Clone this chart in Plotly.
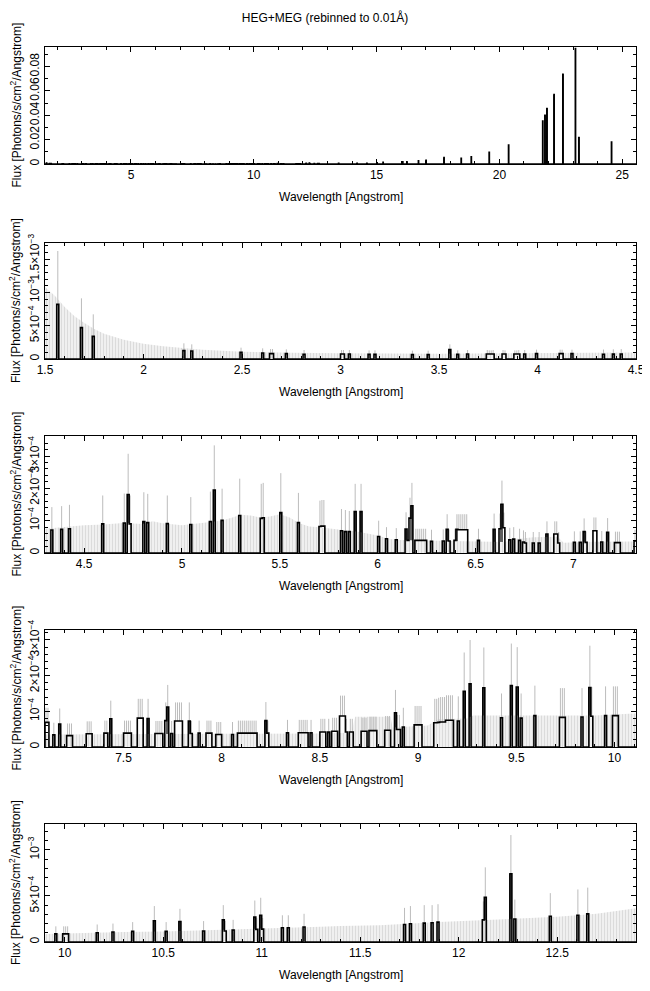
import numpy as np
import plotly.graph_objects as go

TITLE = "HEG+MEG (rebinned to 0.01Å)"
X_TITLE = "Wavelength [Angstrom]"
Y_TITLE = "Flux [Photons/s/cm<sup>2</sup>/Angstrom]"

# ---- weak-line region: 0.01 Å bins (left edge), flux, top of error bar ----
bin_wave = [
    1.56, 1.68, 1.74, 2.20, 2.24, 2.49, 2.60, 2.64, 2.65, 2.72, 2.81, 3.00, 3.01, 3.04,
    3.14, 3.17, 3.36, 3.44, 3.55, 3.59, 3.64, 3.74, 3.75, 3.76, 3.77, 3.82, 3.83, 3.88,
    3.89, 3.90, 3.93, 3.99, 4.11, 4.12, 4.17,
    4.33, 4.38, 4.42, 4.59, 4.70, 4.72, 4.73, 4.80, 4.82, 4.92, 5.04, 5.14, 5.16, 5.20,
    5.29, 5.40, 5.41, 5.50, 5.59, 5.70, 5.71, 5.72, 5.81, 5.83, 5.85, 5.88, 5.91, 6.00,
    6.04, 6.09, 6.14, 6.15, 6.16, 6.17, 6.19, 6.20, 6.21, 6.22, 6.23, 6.24, 6.27, 6.33,
    6.35, 6.36, 6.39, 6.40, 6.41, 6.42, 6.43, 6.44, 6.45, 6.51, 6.59, 6.62, 6.63, 6.64,
    6.67, 6.69, 6.72, 6.74, 6.75, 6.79, 6.82, 6.86, 6.90, 6.91, 6.92, 7.00, 7.03, 7.05,
    7.06, 7.10, 7.11, 7.14, 7.17, 7.21, 7.22, 7.23,
    7.31, 7.32, 7.33, 7.40, 7.41, 7.43, 7.50, 7.51, 7.52, 7.53, 7.57, 7.58, 7.59, 7.62,
    7.66, 7.67, 7.68, 7.69, 7.71, 7.72, 7.74, 7.76, 7.77, 7.78, 7.79, 7.83, 7.84, 7.88,
    7.92, 7.93, 7.94, 7.97, 7.98, 7.99, 8.05, 8.08, 8.09, 8.10, 8.11, 8.12, 8.13, 8.14,
    8.15, 8.16, 8.17, 8.22, 8.23, 8.33, 8.39, 8.40, 8.41, 8.42, 8.43, 8.45, 8.50, 8.51,
    8.52, 8.54, 8.56, 8.57, 8.58, 8.60, 8.61, 8.62, 8.63, 8.65, 8.66, 8.71, 8.72, 8.73,
    8.75, 8.76, 8.77, 8.78, 8.83, 8.84, 8.85, 8.88, 8.89, 8.90, 8.92, 8.98, 8.99, 9.00,
    9.01, 9.08, 9.09, 9.10, 9.11, 9.12, 9.13, 9.14, 9.15, 9.16, 9.17, 9.20, 9.23, 9.26,
    9.33, 9.42, 9.47, 9.50, 9.52, 9.59, 9.72, 9.73, 9.74, 9.83, 9.87, 9.88, 9.95, 9.99,
    10.00, 10.01,
    10.16, 10.24, 10.34, 10.45, 10.51, 10.58, 10.70, 10.80, 10.81, 10.85, 10.96, 10.97,
    10.99, 11.00, 11.10, 11.13, 11.21, 11.72, 11.75, 11.82, 11.86, 11.89, 12.12, 12.13,
    12.26, 12.28, 12.46, 12.60, 12.65,
]
bin_flux = [
    8.2e-4, 4.7e-4, 3.4e-4, 1.25e-4, 1.2e-4, 1.0e-4, 9.0e-5, 8.0e-5, 8.0e-5, 8.0e-5, 7.0e-5, 7.5e-5, 7.5e-5, 7.5e-5,
    7.0e-5, 7.0e-5, 6.5e-5, 6.5e-5, 1.4e-4, 7.0e-5, 7.5e-5, 7.5e-5, 7.5e-5, 7.5e-5, 7.5e-5, 7.5e-5, 7.5e-5, 7.5e-5,
    7.5e-5, 7.5e-5, 7.5e-5, 8.0e-5, 8.0e-5, 8.0e-5, 8.0e-5,
    7.1e-5, 7.3e-5, 7.5e-5, 9.0e-5, 9.3e-5, 1.81e-4, 9.0e-5, 9.7e-5, 9.4e-5, 9.1e-5, 8.8e-5, 9.7e-5, 1.95e-4, 1.01e-4,
    1.16e-4, 1.07e-4, 1.09e-4, 1.25e-4, 9.4e-5, 8.2e-5, 8.3e-5, 8.3e-5, 6.9e-5, 6.6e-5, 6.6e-5, 1.28e-4, 1.28e-4, 5.1e-5,
    4.4e-5, 4.1e-5, 7.4e-5, 3.9e-5, 1.08e-4, 1.46e-4, 3.9e-5, 3.9e-5, 3.9e-5, 3.9e-5, 3.9e-5, 3.9e-5, 3.6e-5, 3.7e-5,
    7.3e-5, 3.7e-5, 3.9e-5, 7.3e-5, 7.2e-5, 7.2e-5, 7.2e-5, 7.2e-5, 7.2e-5, 3.9e-5, 7.3e-5, 7.5e-5, 1.51e-4, 7.8e-5,
    4.1e-5, 4.3e-5, 3.9e-5, 3.4e-5, 3.1e-5, 3.1e-5, 3.1e-5, 5.9e-5, 5.9e-5, 5.9e-5, 3.1e-5, 3.3e-5, 3.3e-5, 6.6e-5,
    3.3e-5, 6.9e-5, 6.9e-5, 3.4e-5, 6.4e-5, 3.2e-5, 3.2e-5, 3.2e-5,
    3.7e-5, 3.7e-5, 3.7e-5, 3.9e-5, 3.9e-5, 7.9e-5, 3.9e-5, 3.9e-5, 3.9e-5, 3.9e-5, 8.1e-5, 8.1e-5, 8.1e-5, 8.0e-5,
    3.8e-5, 3.8e-5, 3.8e-5, 3.8e-5, 7.4e-5, 1.12e-4, 3.8e-5, 7.3e-5, 7.3e-5, 7.3e-5, 7.3e-5, 7.3e-5, 3.8e-5, 3.9e-5,
    3.9e-5, 3.9e-5, 3.9e-5, 3.5e-5, 3.5e-5, 3.5e-5, 3.5e-5, 3.9e-5, 3.9e-5, 3.9e-5, 3.9e-5, 3.9e-5, 3.9e-5, 3.9e-5,
    3.9e-5, 3.9e-5, 3.9e-5, 7.4e-5, 3.9e-5, 4.0e-5, 4.0e-5, 4.0e-5, 4.0e-5, 4.0e-5, 4.0e-5, 4.0e-5, 4.2e-5, 4.2e-5,
    4.2e-5, 4.2e-5, 4.4e-5, 4.4e-5, 4.4e-5, 8.7e-5, 8.7e-5, 8.7e-5, 4.2e-5, 4.2e-5, 4.2e-5, 4.4e-5, 4.4e-5, 4.4e-5,
    4.6e-5, 4.6e-5, 4.6e-5, 4.6e-5, 4.7e-5, 4.7e-5, 4.7e-5, 9.6e-5, 4.9e-5, 4.9e-5, 5.6e-5, 6.2e-5, 6.2e-5, 6.2e-5,
    6.2e-5, 6.8e-5, 6.8e-5, 6.9e-5, 7.0e-5, 7.0e-5, 7.0e-5, 7.5e-5, 7.5e-5, 7.5e-5, 7.5e-5, 7.3e-5, 1.56e-4, 1.77e-4,
    1.66e-4, 8.2e-5, 1.72e-4, 1.68e-4, 8.1e-5, 8.8e-5, 8.3e-5, 8.3e-5, 8.3e-5, 8.4e-5, 1.67e-4, 8.6e-5, 8.8e-5, 8.8e-5,
    8.8e-5, 8.8e-5,
    1.0e-4, 1.08e-4, 1.15e-4, 2.3e-4, 1.15e-4, 2.23e-4, 1.19e-4, 2.4e-4, 1.2e-4, 1.3e-4, 2.7e-4, 1.37e-4,
    2.9e-4, 1.4e-4, 1.55e-4, 1.55e-4, 1.62e-4, 1.9e-4, 1.98e-4, 2.05e-4, 2.09e-4, 2.16e-4, 2.4e-4, 4.86e-4,
    7.4e-4, 2.5e-4, 2.8e-4, 2.9e-4, 3.05e-4,
]
bin_err = [
    1.62e-3, 9.1e-4, 6.7e-4, 2.35e-4, 2.2e-4, 1.7e-4, 1.6e-4, 1.5e-4, 1.5e-4, 1.45e-4, 1.35e-4, 1.35e-4, 1.35e-4, 1.35e-4,
    1.3e-4, 1.3e-4, 1.25e-4, 1.25e-4, 2.2e-4, 1.3e-4, 1.35e-4, 1.35e-4, 1.3e-4, 1.3e-4, 1.35e-4, 1.35e-4, 1.3e-4, 1.3e-4,
    1.3e-4, 1.35e-4, 1.35e-4, 1.4e-4, 1.4e-4, 1.4e-4, 1.4e-4,
    1.42e-4, 1.45e-4, 1.49e-4, 1.78e-4, 1.84e-4, 3.07e-4, 1.78e-4, 1.88e-4, 1.83e-4, 1.78e-4, 1.73e-4, 1.9e-4, 3.33e-4, 1.99e-4,
    2.3e-4, 2.14e-4, 2.17e-4, 2.47e-4, 1.86e-4, 1.62e-4, 1.64e-4, 1.64e-4, 1.36e-4, 1.33e-4, 1.3e-4, 2.14e-4, 2.14e-4, 1.0e-4,
    8.0e-5, 7.7e-5, 1.26e-4, 7.5e-5, 1.71e-4, 2.17e-4, 7.5e-5, 7.5e-5, 7.5e-5, 7.5e-5, 7.5e-5, 7.5e-5, 7.2e-5, 7.3e-5,
    1.2e-4, 7.3e-5, 7.5e-5, 1.2e-4, 1.2e-4, 1.2e-4, 1.2e-4, 1.2e-4, 1.2e-4, 7.5e-5, 1.22e-4, 1.22e-4, 2.24e-4, 1.25e-4,
    7.8e-5, 8.0e-5, 7.5e-5, 7.0e-5, 6.5e-5, 6.5e-5, 6.5e-5, 9.8e-5, 9.8e-5, 9.8e-5, 6.5e-5, 6.7e-5, 6.7e-5, 1.07e-4,
    6.7e-5, 1.1e-4, 1.1e-4, 6.8e-5, 1.08e-4, 6.6e-5, 6.6e-5, 6.6e-5,
    7.2e-5, 7.2e-5, 7.2e-5, 7.4e-5, 7.4e-5, 1.3e-4, 7.4e-5, 7.4e-5, 7.4e-5, 7.4e-5, 1.35e-4, 1.35e-4, 1.35e-4, 1.35e-4,
    7.3e-5, 7.3e-5, 7.3e-5, 7.3e-5, 1.25e-4, 1.74e-4, 7.3e-5, 1.25e-4, 1.25e-4, 1.25e-4, 1.25e-4, 1.25e-4, 7.3e-5, 7.4e-5,
    7.4e-5, 7.4e-5, 7.4e-5, 7.0e-5, 7.0e-5, 7.0e-5, 7.0e-5, 7.4e-5, 7.4e-5, 7.4e-5, 7.4e-5, 7.4e-5, 7.4e-5, 7.4e-5,
    7.4e-5, 7.4e-5, 7.4e-5, 1.26e-4, 7.4e-5, 7.6e-5, 7.6e-5, 7.6e-5, 7.6e-5, 7.6e-5, 7.6e-5, 7.6e-5, 7.9e-5, 7.9e-5,
    7.9e-5, 7.9e-5, 8.2e-5, 8.2e-5, 8.2e-5, 1.44e-4, 1.44e-4, 1.44e-4, 7.9e-5, 7.9e-5, 7.9e-5, 8.2e-5, 8.2e-5, 8.2e-5,
    8.5e-5, 8.5e-5, 8.5e-5, 8.5e-5, 8.7e-5, 8.7e-5, 8.7e-5, 1.6e-4, 9.0e-5, 9.0e-5, 1.1e-4, 1.15e-4, 1.15e-4, 1.15e-4,
    1.15e-4, 1.35e-4, 1.35e-4, 1.38e-4, 1.4e-4, 1.4e-4, 1.4e-4, 1.45e-4, 1.45e-4, 1.45e-4, 1.45e-4, 1.42e-4, 2.65e-4, 3.0e-4,
    2.79e-4, 1.5e-4, 2.9e-4, 2.8e-4, 1.5e-4, 1.72e-4, 1.65e-4, 1.65e-4, 1.65e-4, 1.65e-4, 2.84e-4, 1.68e-4, 1.7e-4, 1.7e-4,
    1.7e-4, 1.7e-4,
    1.9e-4, 2.0e-4, 2.16e-4, 3.9e-4, 2.16e-4, 3.6e-4, 2.27e-4, 4.0e-4, 2.3e-4, 2.4e-4, 4.5e-4, 2.6e-4,
    4.8e-4, 2.6e-4, 2.9e-4, 2.9e-4, 3.06e-4, 3.7e-4, 3.9e-4, 4.0e-4, 4.0e-4, 4.1e-4, 4.4e-4, 8.1e-4,
    1.16e-3, 4.6e-4, 5.3e-4, 5.7e-4, 5.9e-4,
]

# ---- strong long-wavelength lines (only visible in the full-range panel) ----
strong_wave = [13.45, 14.20, 14.60, 15.01, 15.26, 16.06, 16.23, 16.70, 17.01, 17.74,
               18.44, 18.85, 19.58, 20.37, 21.76, 21.85, 21.93, 22.22, 22.58, 23.09,
               23.23, 24.56]
strong_flux = [6e-4, 6e-4, 5e-4, 1.0e-3, 1.4e-3, 1.9e-3, 1.9e-3, 2.7e-3, 3.0e-3, 5.2e-3,
               4.6e-3, 6.0e-3, 9.6e-3, 1.56e-2, 3.52e-2, 4.0e-2, 4.56e-2, 5.7e-2, 7.37e-2, 9.47e-2,
               2.18e-2, 1.8e-2]

# ---- upper error limit of the empty bins ----
env_wave = [1.50, 1.55, 1.60, 1.65, 1.70, 1.75, 1.80, 1.85, 1.90, 1.95, 2.00, 2.10, 2.20,
            2.30, 2.40, 2.50, 2.75, 3.00, 3.50, 4.00, 4.30, 4.45, 4.50, 4.60, 4.70, 4.80,
            4.85, 4.90, 5.00, 5.10, 5.20, 5.25, 5.30, 5.35, 5.40, 5.45, 5.50, 5.55, 5.60,
            5.65, 5.70, 5.80, 5.90, 6.00, 6.05, 6.10, 6.30, 6.50, 6.65, 6.70, 6.80, 6.92,
            6.95, 7.10, 7.25, 7.50, 8.00, 8.50, 8.66, 8.68, 8.86, 8.87, 9.05, 9.10, 9.25,
            9.28, 9.90, 10.10, 10.30, 10.50, 10.70, 10.90, 11.10, 11.30, 11.40, 11.60,
            11.90, 12.10, 12.30, 12.50, 12.70, 12.80, 12.90]
env_upper = [1.08e-3, 9.5e-4, 7.8e-4, 6.4e-4, 5.4e-4, 4.5e-4, 3.8e-4, 3.3e-4, 2.9e-4, 2.6e-4,
             2.3e-4, 1.9e-4, 1.6e-4, 1.4e-4, 1.25e-4, 1.1e-4, 9.5e-5, 8.5e-5, 8.0e-5, 8.0e-5,
             7.5e-5, 8.3e-5, 8.6e-5, 8.8e-5, 9.3e-5, 9.0e-5, 9.8e-5, 9.2e-5, 8.6e-5, 9.3e-5,
             1.0e-4, 1.08e-4, 1.18e-4, 1.16e-4, 1.1e-4, 1.13e-4, 1.2e-4, 1.1e-4, 9.2e-5,
             8.2e-5, 8.0e-5, 7.3e-5, 6.6e-5, 5.4e-5, 4.5e-5, 4.0e-5, 3.8e-5, 3.5e-5, 3.4e-5,
             4.3e-5, 4.9e-5, 5.0e-5, 3.2e-5, 3.5e-5, 3.5e-5, 3.6e-5, 3.7e-5, 3.8e-5, 4.0e-5,
             8.5e-5, 8.5e-5, 5.5e-5, 6.0e-5, 7.8e-5, 8.0e-5, 8.8e-5, 8.8e-5, 9.4e-5, 1.08e-4,
             1.15e-4, 1.26e-4, 1.37e-4, 1.55e-4, 1.65e-4, 1.73e-4, 1.83e-4, 2.16e-4, 2.34e-4,
             2.55e-4, 2.73e-4, 3.06e-4, 3.4e-4, 3.67e-4]

# ---- panel configuration ----
panel_x = [[1.5, 25.56], [1.5, 4.5], [4.30, 7.32], [7.10, 10.11], [9.90, 12.90]]
panel_y = [[0, 0.096], [0, 1.74e-3], [0, 3.62e-4], [0, 3.28e-4], [0, 1.28e-3]]
ytick_vals = [[0, 0.02, 0.04, 0.06, 0.08], [0, 5e-4, 1e-3, 1.5e-3], [0, 1e-4, 2e-4, 3e-4],
              [0, 1e-4, 2e-4, 3e-4], [0, 5e-4, 1e-3]]
ytick_text = [["0", "0.02", "0.04", "0.06", "0.08"],
              ["0", "5×10<sup>−4</sup>", "10<sup>−3</sup>", "1.5×10<sup>−3</sup>"],
              ["0", "10<sup>−4</sup>", "2×10<sup>−4</sup>", "3×10<sup>−4</sup>"],
              ["0", "10<sup>−4</sup>", "2×10<sup>−4</sup>", "3×10<sup>−4</sup>"],
              ["0", "5×10<sup>−4</sup>", "10<sup>−3</sup>"]]
yminor = [0.01, 1e-4, 2e-5, 2e-5, 1e-4]
xmajor = [5, 0.5, 0.5, 0.5, 0.5]
xminor = [1, 0.1, 0.1, 0.1, 0.1]

# layout geometry in reference-page pixels (page has an 8 px body margin)
OFF = 8
W, H = 650 - OFF, 991 - OFF
panel_px = [(47, 164), (243, 359), (436, 553), (630, 747), (824, 942)]
PLOT_L, PLOT_R = 45, 636
FONT = "Liberation Sans, Arial, Helvetica, sans-serif"


def px_x(p):
    return (p - OFF) / W


def px_y(p):
    return 1 - (p - OFF) / H


# ---- build the binned histogram on the 0.01 Å grid ----
idx0 = 150
nbins = 2560 - idx0
edges = np.round((np.arange(nbins + 1) + idx0) / 100.0, 2)
values = np.zeros(nbins + 1)
for w, f in zip(bin_wave + strong_wave, bin_flux + strong_flux):
    values[int(round(w * 100)) - idx0] = f
values[-1] = values[-2]

left_n = np.concatenate([[0.0], values[:-1]])
right_n = np.concatenate([values[1:], [0.0]])
peak = (values > 0) & (values > left_n) & (values > right_n)

bw = np.array(bin_wave)
bf = np.array(bin_flux)
be = np.array(bin_err)

fig = go.Figure()
annotations = []
for i in range(5):
    xa = "x" if i == 0 else f"x{i+1}"
    ya = "y" if i == 0 else f"y{i+1}"
    fig.add_trace(go.Scatter(
        x=env_wave, y=env_upper, mode="lines", line=dict(width=0, color="#d8d8d8"),
        fill="tozeroy", fillcolor="#efefef",
        fillpattern=dict(shape="|", fgcolor="#c6c6c6", bgcolor="#f0f0f0", size=3, solidity=0.33),
        xaxis=xa, yaxis=ya, hoverinfo="skip", showlegend=False))
    fig.add_trace(go.Scatter(
        x=bw + 0.005, y=bf, mode="markers", marker=dict(size=1, opacity=0),
        error_y=dict(type="data", symmetric=False, array=be - bf, arrayminus=np.zeros_like(bf),
                     color="#bcbcbc", thickness=1, width=0),
        xaxis=xa, yaxis=ya, hoverinfo="skip", showlegend=False))
    fig.add_trace(go.Bar(
        x=edges[peak] + 0.005, y=values[peak], width=0.01,
        marker=dict(color="#5e5e5e", line=dict(width=0)),
        xaxis=xa, yaxis=ya, hoverinfo="skip", showlegend=False))
    fig.add_trace(go.Scatter(
        x=edges, y=values, mode="lines", line=dict(shape="hv", color="black", width=1.6),
        xaxis=xa, yaxis=ya, hoverinfo="skip", showlegend=False))

    top, bot = panel_px[i]
    axis_common = dict(showline=True, linecolor="black", linewidth=1, mirror="allticks",
                       ticks="inside", ticklen=5, tickcolor="black", tickwidth=1,
                       showgrid=False, zeroline=False, automargin=False,
                       tickfont=dict(family=FONT, size=12, color="black"))
    xkey = "xaxis" if i == 0 else f"xaxis{i+1}"
    ykey = "yaxis" if i == 0 else f"yaxis{i+1}"
    fig.update_layout(**{
        xkey: dict(domain=[px_x(PLOT_L), px_x(PLOT_R)], anchor=ya, range=panel_x[i],
                   dtick=xmajor[i], tick0=0,
                   minor=dict(dtick=xminor[i], tick0=0, ticks="inside", ticklen=3,
                              tickcolor="black", showgrid=False),
                   **axis_common),
        ykey: dict(domain=[px_y(bot), px_y(top)], anchor=xa, range=panel_y[i],
                   tickmode="array", tickvals=ytick_vals[i], ticktext=ytick_text[i],
                   tickangle=-90,
                   minor=dict(dtick=yminor[i], tick0=0, ticks="inside", ticklen=3,
                              tickcolor="black", showgrid=False),
                   **axis_common),
    })
    # axis titles
    annotations.append(dict(text=X_TITLE, xref="paper", yref="paper",
                            x=px_x((PLOT_L + PLOT_R) / 2), y=px_y(bot + 33),
                            xanchor="center", yanchor="middle", showarrow=False,
                            font=dict(family=FONT, size=12, color="black")))
    annotations.append(dict(text=Y_TITLE, xref="paper", yref="paper",
                            x=px_x(15), y=px_y((top + bot) / 2), textangle=-90,
                            xanchor="center", yanchor="middle", showarrow=False,
                            font=dict(family=FONT, size=12, color="black")))

fig.update_layout(
    width=W, height=H,
    margin=dict(l=0, r=0, t=0, b=0),
    paper_bgcolor="white", plot_bgcolor="white",
    font=dict(family=FONT, size=12, color="black"),
    title=dict(text=TITLE, x=px_x(325), xanchor="center", y=px_y(18), yanchor="middle",
               font=dict(family=FONT, size=12, color="black")),
    annotations=annotations,
    bargap=0,
    showlegend=False,
)

fig.write_html("out.html")
